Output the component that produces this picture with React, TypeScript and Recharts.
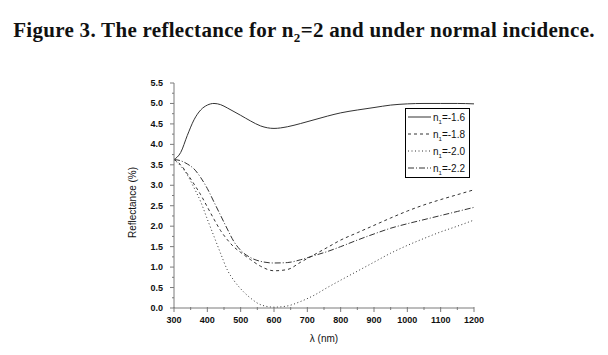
import { LineChart, Line, XAxis, YAxis, Legend } from 'recharts'

// wavelength grid (nm) and reflectance (%)
const WAVELENGTHS = [300, 320, 340, 360, 380, 400, 420, 440, 460, 480, 500, 530, 560, 600, 640, 680, 720, 760, 800, 850, 900, 950, 1000, 1050, 1100, 1150, 1200]
const R_16 = [3.63, 3.80, 4.22, 4.60, 4.84, 4.96, 5.00, 4.97, 4.89, 4.80, 4.71, 4.57, 4.45, 4.39, 4.43, 4.51, 4.60, 4.69, 4.77, 4.84, 4.90, 4.96, 4.99, 5.00, 5.00, 5.00, 4.99]
const R_18 = [3.63, 3.50, 3.28, 3.03, 2.77, 2.47, 2.17, 1.89, 1.67, 1.49, 1.36, 1.18, 1.02, 0.91, 0.94, 1.12, 1.30, 1.48, 1.66, 1.84, 2.02, 2.20, 2.37, 2.52, 2.65, 2.77, 2.89]
const R_20 = [3.63, 3.47, 3.25, 2.94, 2.60, 2.17, 1.75, 1.33, 0.93, 0.67, 0.47, 0.24, 0.08, 0.02, 0.05, 0.16, 0.31, 0.50, 0.68, 0.90, 1.12, 1.34, 1.53, 1.70, 1.86, 2.00, 2.15]
const R_22 = [3.63, 3.60, 3.52, 3.40, 3.19, 2.92, 2.59, 2.26, 1.93, 1.62, 1.41, 1.23, 1.14, 1.10, 1.11, 1.18, 1.28, 1.38, 1.50, 1.66, 1.81, 1.95, 2.06, 2.16, 2.26, 2.36, 2.46]

const SERIES_KEYS = ['r16', 'r18', 'r20', 'r22']
const SERIES_LABELS = ['=-1.6', '=-1.8', '=-2.0', '=-2.2']
const SERIES_DASH = ['', '3 3', '1 2.5', '6 2 1 2']

const X_TICKS = [300, 350, 400, 450, 500, 550, 600, 650, 700, 750, 800, 850, 900, 950, 1000, 1050, 1100, 1150, 1200]
const Y_TICKS = [0, 0.25, 0.5, 0.75, 1, 1.25, 1.5, 1.75, 2, 2.25, 2.5, 2.75, 3, 3.25, 3.5, 3.75, 4, 4.25, 4.5, 4.75, 5, 5.25, 5.5]
const TOP_TICKS = [390, 480, 570, 660, 750, 840, 930, 1020, 1110]
const RIGHT_TICKS = [0.55, 1.1, 1.65, 2.2, 2.75, 3.3, 3.85, 4.4, 4.95]

const data = WAVELENGTHS.map((nm, i) => ({
  nm,
  r16: R_16[i],
  r18: R_18[i],
  r20: R_20[i],
  r22: R_22[i],
}))

const AXIS = '#7a7a7a'
const LINE = '#333'
const TICK_FONT = { fontFamily: 'Liberation Sans, Arial, sans-serif', fontSize: 9, fontWeight: 700, fill: '#111' }

const BottomTick = ({ x, y, payload }: any) => {
  const major = payload.value % 100 === 0
  return (
    <g>
      <line x1={x} x2={x} y1={y - 1} y2={y + (major ? 4 : 2)} stroke={AXIS} />
      {major && (
        <text x={x} y={y + 15} textAnchor="middle" {...TICK_FONT}>{payload.value}</text>
      )}
    </g>
  )
}

const LeftTick = ({ x, y, payload }: any) => {
  const major = Math.abs(payload.value * 2 - Math.round(payload.value * 2)) < 1e-6
  return (
    <g>
      <line x1={x - (major ? 4 : 2)} x2={x} y1={y} y2={y} stroke={AXIS} />
      {major && (
        <text x={x - 11} y={y + 3} textAnchor="end" {...TICK_FONT}>{payload.value.toFixed(1)}</text>
      )}
    </g>
  )
}

const TopTick = ({ x, y }: any) => <line x1={x} x2={x} y1={y} y2={y + 4} stroke={AXIS} />
const RightTick = ({ x, y }: any) => <line x1={x - 4} x2={x} y1={y} y2={y} stroke={AXIS} />

const LegendBox = () => (
  <svg width={65} height={70} style={{ display: 'block' }}>
    <rect x={0.5} y={0.5} width={64} height={69} fill="#fff" stroke="#000" />
    {SERIES_KEYS.map((k, i) => {
      const cy = 9 + i * 17
      return (
        <g key={k}>
          <line x1={3} x2={26} y1={cy} y2={cy} stroke={LINE} strokeDasharray={SERIES_DASH[i] || undefined} />
          <text x={28} y={cy + 3.5} fontFamily="Liberation Sans, Arial, sans-serif" fontSize={10} fill="#111">
            n<tspan fontSize={6} dy={3}>1</tspan><tspan dy={-3}>{SERIES_LABELS[i]}</tspan>
          </text>
        </g>
      )
    })}
  </svg>
)

export default function App() {
  return (
    <div style={{ position: 'absolute', left: 0, top: 0, width: 608, height: 355, background: '#fff' }}>
      <div
        style={{
          position: 'absolute',
          left: 0,
          top: 18,
          width: 608,
          textAlign: 'center',
          fontFamily: 'Liberation Serif, Times New Roman, serif',
          fontWeight: 700,
          fontSize: 21,
          letterSpacing: 0.3,
          color: '#111',
        }}
      >
        Figure 3. The reflectance for n<sub style={{ fontSize: 13 }}>2</sub>=2 and under normal incidence.
      </div>
      <div style={{ position: 'absolute', left: 0, top: 0 }}>
        <LineChart width={608} height={355} data={data} margin={{ top: 83, right: 134, bottom: 17, left: 124 }}>
          <XAxis
            dataKey="nm"
            type="number"
            domain={[300, 1200]}
            ticks={X_TICKS}
            interval={0}
            height={30}
            tickSize={0}
            tickMargin={0}
            tickLine={false}
            tick={<BottomTick />}
            axisLine={{ stroke: AXIS }}
            label={({ viewBox }: any) => (
              <text
                x={viewBox.x + viewBox.width / 2}
                y={viewBox.y + 34}
                textAnchor="middle"
                fontFamily="Liberation Sans, Arial, sans-serif"
                fontSize={10}
                fill="#111"
              >
                λ (nm)
              </text>
            )}
          />
          <XAxis
            xAxisId="top"
            orientation="top"
            dataKey="nm"
            type="number"
            domain={[300, 1200]}
            ticks={TOP_TICKS}
            interval={0}
            height={0}
            tickSize={0}
            tickMargin={0}
            tickLine={false}
            tick={<TopTick />}
            axisLine={{ stroke: AXIS }}
          />
          <YAxis
            type="number"
            domain={[0, 5.5]}
            ticks={Y_TICKS}
            interval={0}
            width={50}
            tickSize={0}
            tickMargin={0}
            tickLine={false}
            tick={<LeftTick />}
            axisLine={{ stroke: AXIS }}
            label={({ viewBox }: any) => {
              const cx = viewBox.x + 12
              const cy = viewBox.y + viewBox.height / 2 + 7
              return (
                <text
                  x={cx}
                  y={cy}
                  transform={`rotate(-90 ${cx} ${cy})`}
                  textAnchor="middle"
                  fontFamily="Liberation Sans, Arial, sans-serif"
                  fontSize={10}
                  fill="#111"
                >
                  Reflectance (%)
                </text>
              )
            }}
          />
          <YAxis
            yAxisId="right"
            orientation="right"
            type="number"
            domain={[0, 5.5]}
            ticks={RIGHT_TICKS}
            interval={0}
            width={0}
            tickSize={0}
            tickMargin={0}
            tickLine={false}
            tick={<RightTick />}
            axisLine={{ stroke: AXIS }}
          />
          <Legend
            layout="vertical"
            align="center"
            verticalAlign="middle"
            content={() => <LegendBox />}
            wrapperStyle={{ left: 405, top: 108, width: 65, height: 70 }}
          />
          {SERIES_KEYS.map((k, i) => (
            <Line
              key={k}
              dataKey={k}
              type="monotone"
              stroke={LINE}
              strokeWidth={1}
              strokeDasharray={SERIES_DASH[i] || undefined}
              dot={false}
              activeDot={false}
              isAnimationActive={false}
            />
          ))}
        </LineChart>
      </div>
    </div>
  )
}
